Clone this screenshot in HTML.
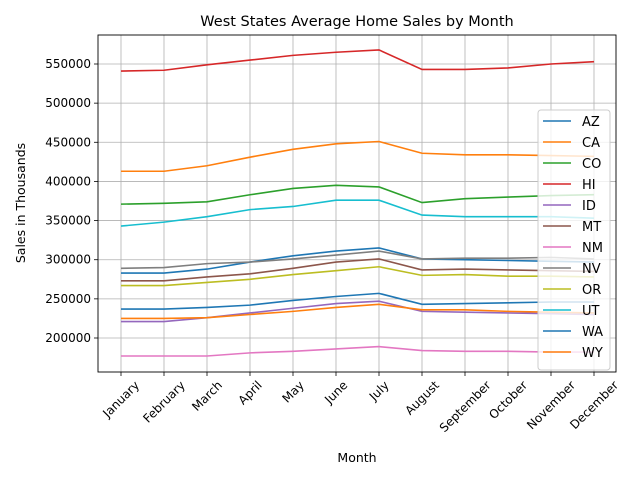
<!DOCTYPE html>
<html><head><meta charset="utf-8"><style>body{margin:0;background:#fff}svg{font-family:"DejaVu Sans","Liberation Sans",sans-serif}</style></head>
<body>
<svg id="chart" width="640" height="480" xmlns="http://www.w3.org/2000/svg"></svg>
<script>
const months=["January","February","March","April","May","June","July","August","September","October","November","December"];
const yTicks=[200000,250000,300000,350000,400000,450000,500000,550000];
const stateNames=["AZ","CA","CO","HI","ID","MT","NM","NV","OR","UT","WA","WY"];
const colors=["#1f77b4","#ff7f0e","#2ca02c","#d62728","#9467bd","#8c564b","#e377c2","#7f7f7f","#bcbd22","#17becf","#1f77b4","#ff7f0e"];
const AZ=[283,283,288,297,305,311,315,301,300,299,298,297];
const CA=[413,413,420,431,441,448,451,436,434,434,433,432];
const CO=[371,372,374,383,391,395,393,373,378,380,382,383];
const HI=[541,542,549,555,561,565,568,543,543,545,550,553];
const ID=[221,221,226,232,238,244,247,234,233,232,231,230];
const MT=[273,273,278,282,289,297,301,287,288,287,286,285];
const NM=[177,177,177,181,183,186,189,184,183,183,182,182];
const NV=[289,290,295,297,301,306,311,301,302,302,303,301];
const OR=[267,267,271,275,281,286,291,280,281,279,279,278];
const UT=[343,348,355,364,368,376,376,357,355,355,355,353];
const WA=[237,237,239,242,248,253,257,243,244,245,246,246];
const WY=[225,225,226,230,234,239,243,236,236,234,233,232];
const series=[AZ,CA,CO,HI,ID,MT,NM,NV,OR,UT,WA,WY];
const svg=document.getElementById('chart');const NS="http://www.w3.org/2000/svg";
const L=98,R=616,T=35,B=372;
const x=i=>121+i*(594-121)/(months.length-1);
const y=v=>338-(v-200000)*274/350000;
function mk(t,a,p){const e=document.createElementNS(NS,t);for(const k in a)e.setAttribute(k,a[k]);(p||svg).appendChild(e);return e;}
const tt=mk('text',{x:357,y:26,'text-anchor':'middle','font-size':14.5});tt.textContent="West States Average Home Sales by Month";

months.forEach((m,i)=>{const g=mk('line',{x1:x(i),x2:x(i),y1:T,y2:B,stroke:'#b0b0b0','stroke-width':0.8});

mk('line',{x1:x(i),x2:x(i),y1:B,y2:B+4,stroke:'#000','stroke-width':0.8});
const t=mk('text',{x:0,y:0,'text-anchor':'middle','font-size':12,dy:'0.35em'});t.textContent=m;
const len=t.getComputedTextLength();const h=14;
const cy=B+6+(len*0.7071+h*0.7071)/2;
t.setAttribute('transform',`translate(${x(i)},${cy}) rotate(-45)`);
});
yTicks.forEach(v=>{const g=mk('line',{x1:L,x2:R,y1:y(v),y2:y(v),stroke:'#b0b0b0','stroke-width':0.8});

mk('line',{x1:L-4,x2:L,y1:y(v),y2:y(v),stroke:'#000','stroke-width':0.8});
const t=mk('text',{x:L-7,y:y(v)+4,'text-anchor':'end','font-size':12});t.textContent=v;
});
series.forEach((s,k)=>{const p=mk('polyline',{points:s.map((v,i)=>x(i)+','+y(v*1000)).join(' '),fill:'none',stroke:colors[k],'stroke-width':1.6});
});
const fr=mk('rect',{x:L,y:T,width:R-L,height:B-T,fill:'none',stroke:'#000','stroke-width':0.9});

const xl=mk('text',{x:357,y:462,'text-anchor':'middle','font-size':12.5});xl.textContent="Month";

const yl=mk('text',{x:0,y:0,'text-anchor':'middle','font-size':12.5,transform:'translate(25,203) rotate(-90)'});yl.textContent="Sales in Thousands";

const lg=mk('g',{});
mk('rect',{x:538,y:110,width:72,height:260,rx:3,fill:'#fff','fill-opacity':0.8,stroke:'#ccc'},lg);
stateNames.forEach((n,k)=>{const yy=121+k*21;const e=mk('g',{},lg);

mk('line',{x1:543,x2:571,y1:yy,y2:yy,stroke:colors[k],'stroke-width':1.6},e);
const t=mk('text',{x:582,y:yy+5,'font-size':13},e);t.textContent=n;});
</script>
</body></html>
